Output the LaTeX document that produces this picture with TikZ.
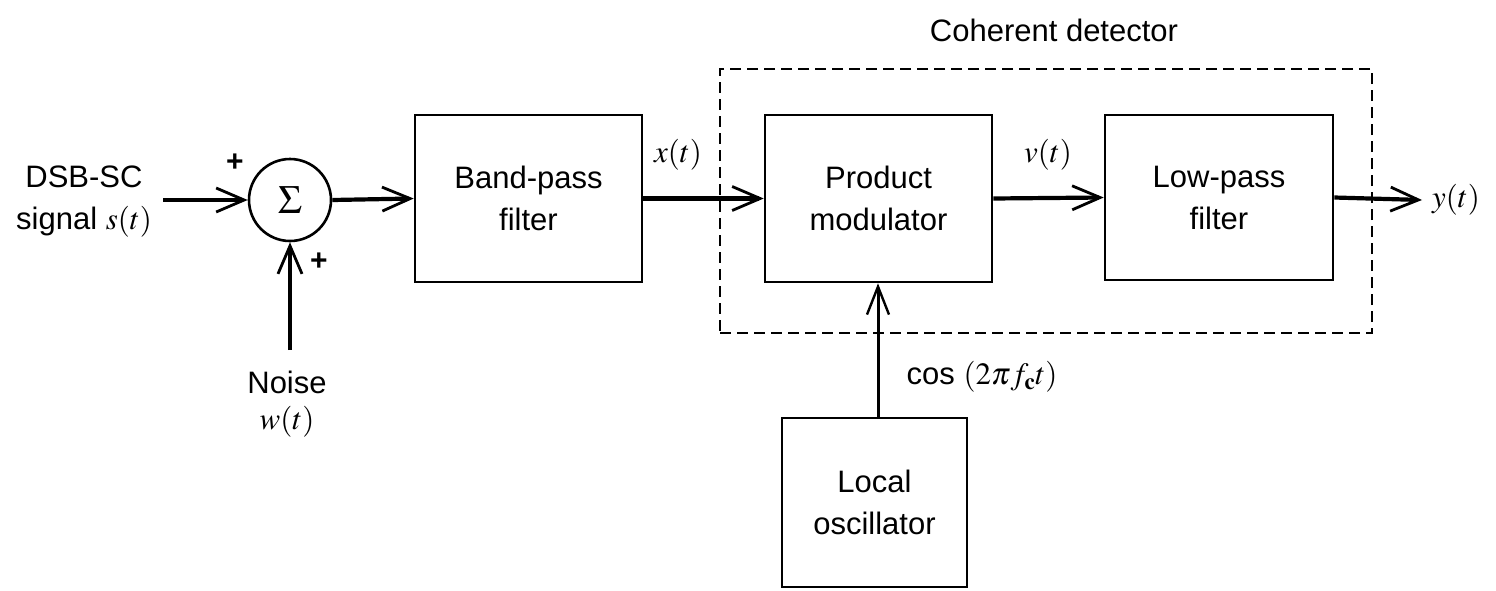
\documentclass[tikz,border=0pt]{standalone}
\usepackage{mathptmx}
\usepackage{fontspec}
\setmainfont{Liberation Sans}
\usetikzlibrary{arrows.meta}
\begin{document}
\begin{tikzpicture}[x=1pt,y=-1pt,
  every node/.style={font=\fontsize{31}{42}\selectfont},
  blk/.style={draw,line width=2.6pt,align=center,inner sep=0pt},
  sig/.style={line width=4.2pt,-{Straight Barb[length=28pt,width=24pt,line width=2.8pt]}},
  thinsig/.style={line width=3pt,-{Straight Barb[length=28pt,width=22pt,line width=2.4pt]}},
  lbl/.style={inner sep=0pt,align=center}]
% canvas
\useasboundingbox (0,0) rectangle (1496,590);
\fill[white] (0,0) rectangle (1496,590);

% coherent detector enclosure
\node[draw,line width=2.2pt,dash pattern=on 11pt off 6pt,minimum width=652pt,minimum height=264pt,inner sep=0pt] (det) at (1046,201) {};
\node[lbl] (dettitle) at (1054,30) {Coherent detector};

% summing junction
\node[draw,circle,line width=2.6pt,minimum size=82pt,inner sep=0pt,font=\fontsize{40}{44}\selectfont] (sum) at (290,200) {$\Sigma$};
\node[lbl,font=\fontsize{30}{30}\bfseries] (pa) at (235,163) {+};
\node[lbl,font=\fontsize{30}{30}\bfseries] (pb) at (319,262) {+};

% blocks
\node[blk,minimum width=227pt,minimum height=167pt] (bpf) at (528.5,198.5) {Band-pass\\filter};
\node[blk,minimum width=227pt,minimum height=167pt] (pm) at (878.5,198.5) {Product\\modulator};
\node[blk,minimum width=228pt,minimum height=165pt] (lpf) at (1219,197.5) {Low-pass\\filter};
\node[blk,minimum width=185pt,minimum height=169pt] (lo) at (874.5,502.5) {Local\\oscillator};

% inputs and output
\node[lbl] (src) at (84,202) {DSB-SC\\signal $s(t)$};
\node[lbl,font=\fontsize{31}{36}\selectfont] (noise) at (287,404) {Noise\\$w(t)$};
\coordinate (in) at (163,200);
\coordinate (nin) at (290,350);
\coordinate (out) at (1422,200);
\node[lbl,anchor=west] (ylab) at (1432,200) {$y(t)$};

% signal labels
\node[lbl] (xlab) at (678,155) {$x(t)$};
\node[lbl] (vlab) at (1048,155) {$v(t)$};
\node[lbl] (carrier) at (982,377) {cos $(2\pi f_{\mathbf{c}}t)$};

% connectors
\draw[sig] (in) -- (sum.west);
\draw[sig,line width=4.6pt] (nin) -- (sum.south);
\draw[sig] (sum.east) -- (bpf.west);
\draw[sig] (bpf.east) -- (pm.west);
\draw[sig] (pm.east) -- (lpf.west);
\draw[sig] (lpf.east) -- (out);
\draw[thinsig] (lo.north -| 878,0) -- (pm.south -| 878,0);
\end{tikzpicture}
\end{document}
